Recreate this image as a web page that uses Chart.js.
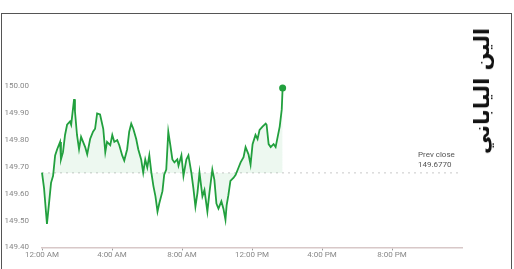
<!DOCTYPE html>
<html>
<head>
<meta charset="utf-8">
<script src="https://cdn.jsdelivr.net/npm/chart.js@4"></script>
<style>
  html, body { margin: 0; padding: 0; background: #fff; }
  #wrap { position: relative; width: 514px; height: 269px; overflow: hidden; }
  #frame { position: absolute; left: 1px; top: 13px; width: 509px; height: 262px; border: 1.5px solid #555; }
  #title { position: absolute; left: 482px; top: 91px; transform: translate(-50%, -50%) rotate(-90deg);
           white-space: nowrap; font: bold 21px "DejaVu Sans", sans-serif; color: #111; direction: rtl; }
  canvas { position: absolute; left: 0; top: 0; }
</style>
</head>
<body>
<div id="wrap">
  <div id="frame"></div>
  <canvas id="fxChart" width="514" height="269"></canvas>
  <div id="title">الين الياباني</div>
</div>
<script>
// minutes since midnight
const times = [0, 7, 17, 24, 31, 38, 45, 52, 62, 65, 72, 79, 86, 96, 100, 110, 113, 120, 127, 134,
  148, 155, 165, 175, 182, 189, 199, 210, 217, 223, 234, 241, 248, 258, 265, 275, 282, 292, 299, 306,
  313, 323, 330, 340, 347, 354, 361, 368, 375, 382, 389, 396, 402, 413, 419, 426, 433, 440, 447, 454,
  464, 468, 478, 485, 495, 502, 512, 519, 526, 533, 540, 550, 557, 567, 574, 584, 591, 598, 605, 615,
  622, 629, 633, 639, 646, 657, 664, 674, 681, 691, 698, 708, 715, 722, 732, 739, 746, 756, 767, 770,
  777, 784, 794, 801, 808, 815, 822, 825];
const rates = [149.678, 149.620, 149.487, 149.563, 149.640, 149.666, 149.742, 149.765, 149.792, 149.727,
  149.754, 149.818, 149.856, 149.868, 149.856, 149.951, 149.906, 149.818, 149.765, 149.811,
  149.773, 149.746, 149.803, 149.830, 149.841, 149.898, 149.894, 149.841, 149.754, 149.792,
  149.780, 149.818, 149.792, 149.799, 149.780, 149.742, 149.723, 149.765, 149.830, 149.860,
  149.841, 149.803, 149.765, 149.727, 149.678, 149.727, 149.697, 149.742, 149.678, 149.628,
  149.590, 149.533, 149.563, 149.609, 149.670, 149.689, 149.830, 149.780, 149.727, 149.716,
  149.727, 149.704, 149.742, 149.666, 149.727, 149.742, 149.678, 149.620, 149.552, 149.603,
  149.678, 149.590, 149.613, 149.533, 149.603, 149.689, 149.651, 149.563, 149.544, 149.571,
  149.544, 149.503, 149.556, 149.594, 149.647, 149.659, 149.670, 149.697, 149.716, 149.735,
  149.773, 149.746, 149.708, 149.784, 149.818, 149.803, 149.837, 149.849, 149.860, 149.856,
  149.784, 149.773, 149.784, 149.773, 149.811, 149.849, 149.913, 149.993];
const prevClose = 149.6770;
const yTicks = [149.40, 149.50, 149.60, 149.70, 149.80, 149.90, 150.00];
const xTickLabels = ['12:00 AM', '4:00 AM', '8:00 AM', '12:00 PM', '4:00 PM', '8:00 PM'];

const lineGreen = 'rgb(34, 160, 62)';
const lastIdx = rates.length - 1;

const prevCloseLabel = {
  id: 'prevCloseLabel',
  afterDatasetsDraw(chart) {
    const { ctx, scales } = chart;
    const y = scales.y.getPixelForValue(prevClose);
    const x = scales.x.getPixelForValue(1440) - 44;
    ctx.save();
    ctx.fillStyle = '#555';
    ctx.font = '8px Roboto, sans-serif';
    ctx.textAlign = 'left';
    ctx.textBaseline = 'middle';
    ctx.fillText('Prev close', x, y - 18);
    ctx.fillText(prevClose.toFixed(4), x, y - 8);
    ctx.restore();
  }
};

new Chart(document.getElementById('fxChart'), {
  type: 'line',
  data: {
    datasets: [
      {
        data: times.map((t, i) => ({ x: t, y: rates[i] })),
        borderColor: lineGreen,
        backgroundColor: 'rgba(60, 175, 90, 0.09)',
        borderWidth: 1.8,
        tension: 0,
        clip: false,
        fill: { target: { value: prevClose } },
        pointRadius: ctx => ctx.dataIndex === lastIdx ? 3.5 : 0,
        pointBackgroundColor: lineGreen,
        pointBorderWidth: 0
      },
      {
        data: [{ x: 0, y: prevClose }, { x: 1440, y: prevClose }],
        borderColor: '#c8c8c8',
        borderWidth: 1,
        borderDash: [2, 4],
        pointRadius: 0,
        fill: false
      }
    ]
  },
  options: {
    responsive: false,
    animation: false,
    layout: { padding: { left: 0, right: 52, top: 86, bottom: 9 } },
    plugins: { legend: { display: false }, tooltip: { enabled: false } },
    scales: {
      x: {
        type: 'linear',
        min: 0,
        max: 1440,
        afterBuildTicks: scale => {
          scale.ticks = [0, 240, 480, 720, 960, 1200].map(v => ({ value: v }));
        },
        ticks: {
          callback: (v) => xTickLabels[v / 240],
          color: '#888',
          font: { size: 8, family: 'Roboto' },
          maxRotation: 0,
          padding: 0
        },
        grid: { drawOnChartArea: false, tickLength: 3, color: '#999' },
        border: { display: true, color: '#d8c8c8', width: 1.5 }
      },
      y: {
        min: 149.40,
        max: 150.00,
        afterBuildTicks: scale => {
          scale.ticks = yTicks.map(v => ({ value: v }));
        },
        afterFit: scale => { scale.width = 42; },
        ticks: {
          callback: v => v.toFixed(2),
          color: '#888',
          font: { size: 8, family: 'Roboto' },
          padding: 5
        },
        grid: { display: false },
        border: { display: false }
      }
    }
  },
  plugins: [prevCloseLabel]
});
</script>
</body>
</html>
